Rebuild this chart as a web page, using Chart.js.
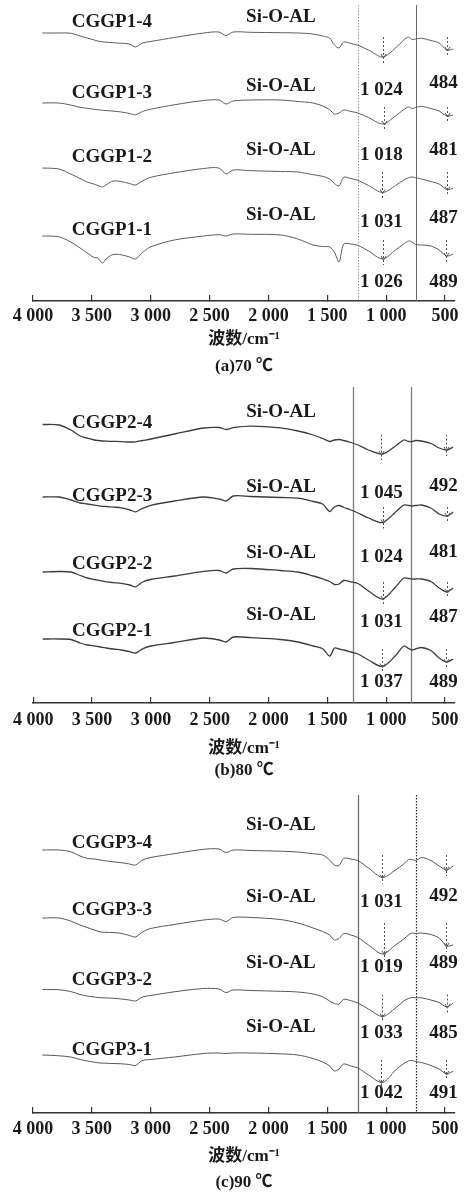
<!DOCTYPE html>
<html>
<head>
<meta charset="utf-8">
<script src="https://cdn.jsdelivr.net/npm/chart.js@4.4.1/dist/chart.umd.min.js"></script>
<style>
	body { margin: 0; background: #fff; overflow: hidden; }
	canvas { display: block; }
</style>
</head>
<body>
<canvas id="chart-a" width="472" height="380"></canvas>
<canvas id="chart-b" width="472" height="402"></canvas>
<canvas id="chart-c" width="472" height="414"></canvas>
<script>
// wavenumber grid (cm-1) shared by every spectrum
var wavenumbers = [3920, 3780, 3680, 3600, 3540, 3480, 3450, 3410, 3380, 3320, 3250, 3180, 3130, 3070, 3000, 2800, 2550, 2420, 2360, 2300, 2150, 1900, 1750, 1620, 1540, 1480, 1440, 1400, 1360, 1300, 1240, 1150, 1030, 920, 850, 810, 780, 750, 700, 620, 550, 485, 430];
var tickValues = [4000, 3500, 3000, 2500, 2000, 1500, 1000, 500];

// (a) 70 C  - relative transmittance, top trace first
var samplesA = ["CGGP1-4", "CGGP1-3", "CGGP1-2", "CGGP1-1"];
var offsetsA = [268, 198, 133, 65];
var peakSiA = [1024, 1018, 1031, 1026];
var peakLowA = [484, 481, 487, 489];
var refLinesA = [1239, 746];
var cggp1_4 = [0, 0, -0.2, -3, -5, -7, -8, -8.8, -9.2, -9.7, -10.3, -11, -14, -10, -8.5, -4.5, 0, 1, -2.5, 1, 0.7, 0.3, 0, -1, -3, -5, -12, -15, -9, -10.5, -12.3, -17, -24, -15, -7, -4, -6.5, -6, -5.2, -7.5, -10, -17, -16];
var cggp1_3 = [0, 0, -2, -4.3, -5.3, -6.3, -6.8, -7.2, -7.5, -8.1, -9, -10.5, -11.8, -8.5, -6.2, -1.8, 2.5, 3, -1, 2, 3, 3, 1.5, 0, -3, -6.7, -11, -10, -7, -8.5, -10, -14.5, -21, -13, -6.5, -4, -5.5, -4.5, -3.3, -5.5, -8, -13, -12];
var cggp1_2 = [0, -1, -6, -10.5, -14, -16.2, -17.5, -19, -17, -13, -13.6, -15.5, -17, -13, -9.3, -4.8, -0.5, 0, -6, -2, -2.7, -3.5, -4, -6.7, -8.3, -11, -15.5, -18, -9.2, -10.6, -12.3, -17.5, -24.5, -17.5, -12, -9.7, -9, -9.7, -11, -13.5, -16, -21.5, -20.5];
var cggp1_1 = [0, -0.8, -6, -12, -17, -21.5, -22, -27, -23, -18.5, -18.8, -21, -23, -16.5, -10.8, -4, 0, 1.3, 0, 2, 1.7, 1.1, -3, -9, -10.5, -11, -16, -26, -8, -8, -9.3, -15, -23, -14, -8, -5, -6, -8.5, -9, -10, -14, -20, -18];

// (b) 80 C
var samplesB = ["CGGP2-4", "CGGP2-3", "CGGP2-2", "CGGP2-1"];
var offsetsB = [278.5, 206, 131, 64];
var peakSiB = [1045, 1024, 1031, 1037];
var peakLowB = [492, 481, 487, 489];
var refLinesB = [1281, 789];
var cggp2_4 = [0, -0.5, -5.5, -11.5, -13.7, -15.5, -16, -16.5, -16.7, -16.9, -17.1, -17.5, -17.3, -16, -14.5, -9.5, -3.5, -3, -5, -3.2, -1.7, -3.3, -6.5, -10.5, -14, -17, -15.5, -15, -16, -18, -20.5, -25.5, -29.5, -21.5, -15.5, -17, -17, -16, -16.5, -19, -23.5, -25.5, -22.5];
var cggp2_3 = [0, 0, -3, -6, -7, -8.2, -8.7, -9.3, -9.5, -10.1, -10.8, -13, -14.8, -11.3, -8.3, -4, 0, -2, -4, 1, 0.5, -0.5, -1.2, -4.5, -7, -14.5, -10, -8.5, -10.5, -13, -16, -21, -25.5, -15, -8, -8.5, -9, -8.5, -8, -11, -17, -19, -15];
var cggp2_2 = [0, 0.5, 0, -3.5, -6, -7.5, -8.2, -9.1, -9.8, -10.6, -11.4, -13, -14.8, -10, -7.5, -4, 0.6, 1.5, -1, 3, 3.5, 1.5, 0, -4, -6.8, -9.5, -12.5, -12, -8.5, -9.8, -11.5, -19, -27, -15, -6, -6.5, -7, -7, -7, -9.5, -16, -20, -16];
var cggp2_1 = [0, 0, -0.5, -4, -6, -7, -7.5, -8.3, -9, -10, -11, -12.7, -14, -9.8, -7, -3.5, 1, -1, -3, 2, 1.3, -0.5, -3, -7, -9.8, -17, -9, -10, -11, -13, -15, -21, -27.5, -16.5, -7, -9.5, -11, -10, -8.5, -11.5, -19, -23, -20];

// (c) 90 C
var samplesC = ["CGGP3-4", "CGGP3-3", "CGGP3-2", "CGGP3-1"];
var offsetsC = [263, 195, 123.5, 58];
var peakSiC = [1031, 1019, 1033, 1042];
var peakLowC = [492, 489, 485, 491];
var refLinesC = [1242, 749];
var cggp3_4 = [0, 0, -1.7, -6, -8.3, -9, -9.5, -10.4, -10.9, -11.8, -12.7, -14, -15, -10, -7.5, -3.7, 0.7, 1, -2.5, 0, -0.5, -1.2, -2, -3.8, -5, -10, -15, -15.5, -8.3, -9, -10.7, -18, -27.5, -20, -14, -9.5, -9.5, -10.7, -7.5, -10.5, -16, -20, -16];
var cggp3_3 = [0, 0, -3, -7, -9.5, -12, -13.2, -14.2, -14.3, -14.6, -15.4, -17.5, -19, -14, -10.5, -6.5, -2, -1, -3.5, 0.5, 0.5, -1.5, -5, -10, -13.5, -17, -22, -20.5, -15.5, -17, -19.5, -27, -36, -27, -21, -17, -15, -15.5, -15, -16.5, -20, -28, -27];
var cggp3_2 = [0, -0.3, -2, -5, -6.5, -7.5, -8, -8.3, -8.5, -8.7, -9.5, -10.5, -11.5, -7.5, -6, -2.3, 1, 0.5, -3, -0.5, -1, -1.8, -2.5, -4.5, -7.3, -11.5, -14, -14.5, -9.8, -11.2, -13.5, -19.5, -27, -18.5, -11.5, -9, -8, -8.3, -8.3, -10.5, -13, -17.5, -13.5];
var cggp3_1 = [0, -0.8, -2, -4.5, -6, -7.2, -7.8, -8.1, -8.2, -8.5, -8.8, -9.5, -10.5, -5.5, -4.5, -2, 1.5, 2, 1.5, 2, 2, 1.2, 0, -3.5, -7, -11, -16, -14, -9, -11, -13, -20, -27.5, -15, -8.5, -6, -5.5, -6.5, -7.5, -10.5, -14, -19, -16];

var SERIF = '"Liberation Serif", "Times New Roman", serif';
var SERIF_CJK = '"Liberation Serif", "Noto Sans CJK SC", serif';
var INK = "#1a1a1a";

function formatWavenumber(v) {
	if(v >= 1000)
		return Math.floor(v / 1000) + " " + String(v % 1000).padStart(3, "0");
	return String(v);
}

var panels = [
	{
		canvas: "chart-a", caption: "(a)70 \u2103",
		names: samplesA, offsets: offsetsA, series: [cggp1_4, cggp1_3, cggp1_2, cggp1_1],
		peakSi: peakSiA, peakLow: peakLowA, refLines: refLinesA,
		plotHeight: 301, axisHeight: 79, tickPad: 11, titleLine: 27,
		lineColor: "#5c5c5c", lineWidth: 1,
		refTop: 5,
		refStyle: [{color: "#9a9a9a", width: 1, dash: [1.5, 1.5]}, {color: "#6a6a6a", width: 1, dash: []}],
		markerTop: 4,
		nameDy: [-11, -10, -11, -6],
		siDy: [-16, -17, -18, -21],
		numDy: [[57, 50], [52, 47], [54, 50], [46, 46]]
	},
	{
		canvas: "chart-b", caption: "(b)80 \u2103",
		names: samplesB, offsets: offsetsB, series: [cggp2_4, cggp2_3, cggp2_2, cggp2_1],
		peakSi: peakSiB, peakLow: peakLowB, refLines: refLinesB,
		plotHeight: 323, axisHeight: 79, tickPad: 13, titleLine: 22,
		lineColor: "#3c3c3c", lineWidth: 1.3,
		refTop: 7,
		refStyle: [{color: "#7a7a7a", width: 1.3, dash: []}, {color: "#7a7a7a", width: 1.3, dash: []}],
		markerTop: 10,
		nameDy: [-1.5, -1, -8, -8],
		siDy: [-12.5, -10, -19, -24],
		numDy: [[68.5, 61.5], [60, 55], [50, 45], [43, 43]]
	},
	{
		canvas: "chart-c", caption: "(c)90 \u2103",
		names: samplesC, offsets: offsetsC, series: [cggp3_4, cggp3_3, cggp3_2, cggp3_1],
		peakSi: peakSiC, peakLow: peakLowC, refLines: refLinesC,
		plotHeight: 331, axisHeight: 83, tickPad: 12, titleLine: 26,
		lineColor: "#555555", lineWidth: 1,
		refTop: 13,
		refStyle: [{color: "#666666", width: 1.2, dash: []}, {color: "#222222", width: 1.2, dash: [1.5, 1.5]}],
		markerTop: 5,
		nameDy: [-7, -8, -9.5, -5],
		siDy: [-25, -21, -26.5, -28],
		numDy: [[52, 46], [49, 45], [43.5, 43.5], [38, 38]]
	}
];

function troughValue(values, peak) {
	var low = 0;
	for(var k = 0; k < wavenumbers.length; k++)
		if(Math.abs(wavenumbers[k] - peak) <= 60 && values[k] < low)
			low = values[k];
	return low;
}

function makeMarksPlugin(panel) {
	return {
		id: "marks-" + panel.canvas,
		beforeDatasetsDraw: function(chart) {
			var ctx = chart.ctx, xs = chart.scales.x, area = chart.chartArea;
			ctx.save();
			panel.refLines.forEach(function(wn, i) {
				var st = panel.refStyle[i];
				var px = Math.round(xs.getPixelForValue(wn)) + 0.5;
				ctx.strokeStyle = st.color;
				ctx.lineWidth = st.width;
				ctx.setLineDash(st.dash);
				ctx.beginPath();
				ctx.moveTo(px, area.top + panel.refTop);
				ctx.lineTo(px, area.bottom);
				ctx.stroke();
			});
			ctx.restore();
		},
		afterDatasetsDraw: function(chart) {
			var ctx = chart.ctx, xs = chart.scales.x, ys = chart.scales.y;
			ctx.save();
			
			// dashed peak markers with small arrow heads
			ctx.strokeStyle = "#555";
			ctx.lineWidth = 1;
			panel.series.forEach(function(values, i) {
				[panel.peakSi[i], panel.peakLow[i]].forEach(function(peak) {
					var px = Math.round(xs.getPixelForValue(peak)) + 0.5;
					var base = ys.getPixelForValue(panel.offsets[i]);
					var trough = ys.getPixelForValue(panel.offsets[i] + troughValue(values, peak));
					ctx.setLineDash([2, 2]);
					ctx.beginPath();
					ctx.moveTo(px, base + panel.markerTop);
					ctx.lineTo(px, trough + 6);
					ctx.stroke();
					ctx.setLineDash([]);
					ctx.beginPath();
					ctx.moveTo(px - 2.5, trough - 3);
					ctx.lineTo(px, trough + 1);
					ctx.lineTo(px + 2.5, trough - 3);
					ctx.stroke();
				});
			});
			
			ctx.fillStyle = INK;
			ctx.font = "bold 19px " + SERIF;
			ctx.textBaseline = "middle";
			panel.names.forEach(function(name, i) {
				var base = ys.getPixelForValue(panel.offsets[i]);
				ctx.textAlign = "left";
				ctx.fillText(name, xs.getPixelForValue(3670), base + panel.nameDy[i]);
				ctx.fillText("Si-O-AL", xs.getPixelForValue(2190), base + panel.siDy[i]);
				ctx.textAlign = "center";
				ctx.fillText(formatWavenumber(panel.peakSi[i]), xs.getPixelForValue(1040), base + panel.numDy[i][0]);
				ctx.fillText(formatWavenumber(panel.peakLow[i]), xs.getPixelForValue(512), base + panel.numDy[i][1]);
			});
			ctx.restore();
		}
	};
}

function buildPanel(panel) {
	var datasets = panel.series.map(function(values, i) {
		return {
			label: panel.names[i],
			data: wavenumbers.map(function(wn, k) { return {x: wn, y: panel.offsets[i] + values[k]}; }),
			borderColor: panel.lineColor,
			borderWidth: panel.lineWidth,
			pointRadius: 0,
			tension: 0.3,
			fill: false
		};
	});
	
	new Chart(document.getElementById(panel.canvas), {
		type: "line",
		data: {datasets: datasets},
		options: {
			responsive: false,
			animation: false,
			events: [],
			layout: {padding: {left: 33, right: 17, top: 0, bottom: 0}},
			plugins: {legend: {display: false}, tooltip: {enabled: false}},
			scales: {
				x: {
					type: "linear",
					reverse: true,
					min: 415,
					max: 4000,
					afterBuildTicks: function(scale) {
						scale.ticks = tickValues.map(function(v) { return {value: v}; });
					},
					afterFit: function(scale) { scale.height = panel.axisHeight; },
					ticks: {
						autoSkip: false,
						maxRotation: 0,
						padding: panel.tickPad,
						color: INK,
						font: {family: SERIF, size: 18, weight: "bold"},
						callback: function(value) { return formatWavenumber(value); }
					},
					grid: {display: true, drawOnChartArea: false, drawTicks: true, tickLength: -6, color: "#333", lineWidth: 1.2},
					border: {display: true, color: "#333", width: 1.6},
					title: {
						display: true,
						text: ["\u6ce2\u6570/cm\u207b\u00b9", panel.caption],
						color: INK,
						padding: 0,
						font: {family: SERIF_CJK, size: 17, weight: "bold", lineHeight: panel.titleLine + "px"}
					}
				},
				y: {display: false, min: 0, max: panel.plotHeight}
			}
		},
		plugins: [makeMarksPlugin(panel)]
	});
}

panels.forEach(buildPanel);
</script>
</body>
</html>
